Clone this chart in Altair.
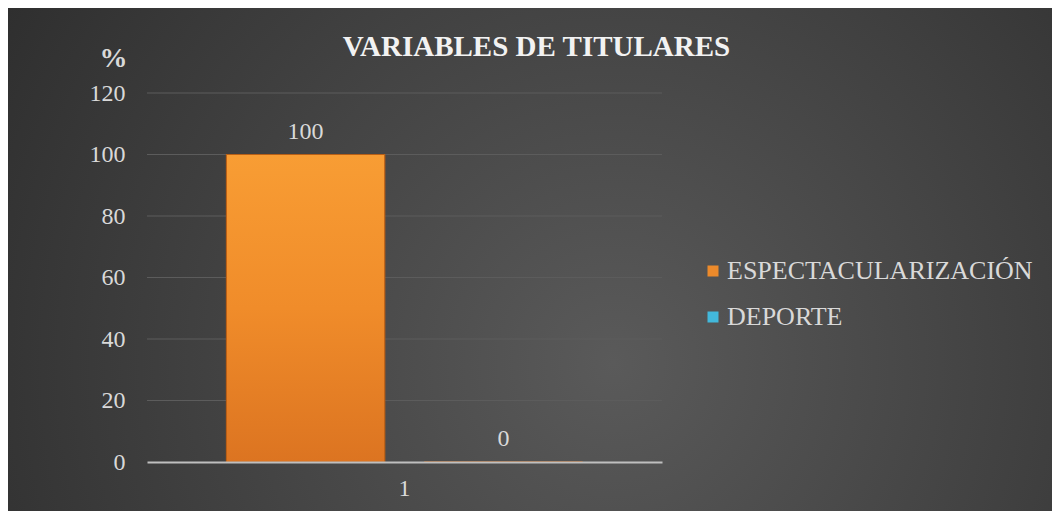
import altair as alt
import pandas as pd

categories = ["1", "1"]
series = ["ESPECTACULARIZACIÓN", "DEPORTE"]
values = [100, 0]
grid_ticks = [20, 40, 60, 80, 100, 120]

W, H = 515, 369
PL, PT, PR, PB = 139, 85, 390, 49
FONT = "Liberation Serif"
TXT = "#d9d9d9"

df = pd.DataFrame({"cat": categories, "serie": series, "valor": values})
grid_df = pd.DataFrame({"v": grid_ticks})

x_enc = alt.X("cat:N", title=None,
              scale=alt.Scale(paddingInner=0, paddingOuter=0.223),
              axis=alt.Axis(labelAngle=0, labelFont=FONT, labelFontSize=24, labelColor=TXT,
                            ticks=False, domainColor="#bfbfbf", domainWidth=2,
                            labelPadding=14, zindex=2))
xo_enc = alt.XOffset("serie:N", sort=series, scale=alt.Scale(paddingInner=0.2, paddingOuter=0))
y_scale = alt.Scale(domain=[0, 120], nice=False)

bg = alt.Chart(df).mark_rect(
    fill=alt.Gradient(gradient="radial",
                      stops=[alt.GradientStop(color="#5a5a5a", offset=0),
                             alt.GradientStop(color="#2a2a2a", offset=1)],
                      x1=0.58, y1=0.6, r1=0, x2=0.58, y2=0.6, r2=0.75)
).encode(x=alt.value(-PL), x2=alt.value(W + PR), y=alt.value(-PT), y2=alt.value(H + PB))

grid = alt.Chart(grid_df).mark_rule(color="#5c5c5c", strokeWidth=1).encode(
    y=alt.Y("v:Q", scale=y_scale), x=alt.value(0), x2=alt.value(W))

bars = alt.Chart(df).mark_bar(stroke="#b85f16", strokeWidth=1).encode(
    x=x_enc,
    xOffset=xo_enc,
    y=alt.Y("valor:Q", scale=y_scale, title="%",
            axis=alt.Axis(values=[0, 20, 40, 60, 80, 100, 120], grid=False, domain=False, ticks=False,
                          labelFont=FONT, labelFontSize=24, labelColor=TXT, labelPadding=22,
                          titleFont=FONT, titleFontSize=28, titleFontWeight="bold", titleColor=TXT,
                          titleAngle=0, titleX=-34, titleY=-27, titleAlign="center",
                          titleBaseline="alphabetic", zindex=2)),
    color=alt.Color("serie:N", sort=series, title=None,
                    scale=alt.Scale(domain=series, range=["#ec8a2b", "#42b8db"]),
                    legend=alt.Legend(orient="none", legendX=553, legendY=165,
                                      symbolType="square", symbolSize=121,
                                      symbolStrokeWidth=0, labelFont=FONT, labelFontSize=26,
                                      labelColor=TXT, rowPadding=20, labelOffset=1,
                                      labelLimit=400, zindex=2)),
)

overlay = alt.Chart(df).transform_filter(alt.datum.valor > 0).mark_bar(
    fill=alt.Gradient(gradient="linear",
                      stops=[alt.GradientStop(color="#f89d34", offset=0),
                             alt.GradientStop(color="#f08c2a", offset=0.5),
                             alt.GradientStop(color="#dc7421", offset=1)],
                      x1=0, y1=0, x2=0, y2=1),
    stroke="#b85f16", strokeWidth=1
).encode(x=x_enc, xOffset=xo_enc, y=alt.Y("valor:Q", scale=y_scale))

labels = alt.Chart(df).mark_text(font=FONT, fontSize=24, color=TXT, dy=-16, baseline="alphabetic").encode(
    x=x_enc, xOffset=xo_enc, y=alt.Y("valor:Q", scale=y_scale), text="valor:Q")

chart = alt.layer(bg, grid, bars, overlay, labels).properties(
    width=W, height=H,
    padding={"left": PL, "top": PT, "right": PR, "bottom": PB},
    autosize=alt.AutoSizeParams(type="none"),
    background="#3a3a3a",
    title=alt.TitleParams("VARIABLES DE TITULARES", font=FONT, fontSize=29, fontWeight="bold",
                          color="#f2f2f2", anchor="middle", dx=132, dy=90, offset=36, zindex=2),
).configure_view(stroke=None)

chart.save("out.html", embed_options={"renderer": "svg", "actions": False})
